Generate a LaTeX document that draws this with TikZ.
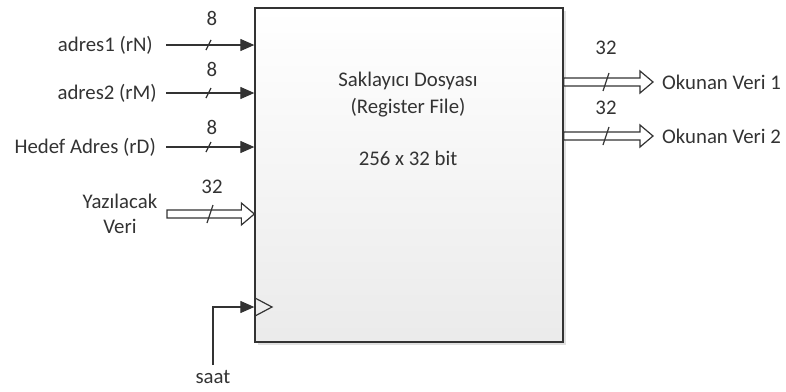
\documentclass[tikz,border=0pt]{standalone}
\usepackage{fontspec}
\setmainfont{Carlito}
\usetikzlibrary{arrows.meta,calc,shadows}
\tikzset{
  x=1pt,y=-1pt,
  lbl/.style={font=\fontsize{20.8}{25}\selectfont, text=black!80, inner sep=0pt},
  sig/.style={draw=black!80, line width=1.2pt, -{Triangle[length=14pt,width=12pt]}},
  bus/.style={draw=black!80, line width=1.2pt, fill=white},
  slash/.style={draw=black!80, line width=1.2pt},
}
\newcommand\busarrow[2]{%
  \draw[bus] ($(#1)+(0,-4)$) -- ($(#2)+(-13,-4)$) -- ($(#2)+(-13,-11)$) -- (#2)
    -- ($(#2)+(-13,11)$) -- ($(#2)+(-13,4)$) -- ($(#1)+(0,4)$) -- cycle;}
\begin{document}
\begin{tikzpicture}
\useasboundingbox (0,0) rectangle (786,391);
% register file box
\node[draw=black!80, line width=1.3pt, top color=white, bottom color=black!8,
  drop shadow={shadow xshift=3pt, shadow yshift=-3pt, fill=black!12, opacity=1},
  minimum width=308pt, minimum height=334pt, inner sep=0pt] (rf) at (409,175) {};
\node[lbl] (t1) at (408,81) {Saklayıcı Dosyası};
\node[lbl] (t2) at (408,108) {(Register File)};
\node[lbl] (t3) at (408,158) {256 x 32 bit};

% inputs
\node[lbl, anchor=east] (a1) at (153,45) {adres1 (rN)};
\node[lbl, anchor=east] (a2) at (157,93) {adres2 (rM)};
\node[lbl, anchor=east] (a3) at (156,147) {Hedef Adres (rD)};
\coordinate (a1s) at (166,45);
\coordinate (a2s) at (166,93);
\coordinate (a3s) at (166,147);
\coordinate (a1e) at (rf.west |- a1s);
\coordinate (a2e) at (rf.west |- a2s);
\coordinate (a3e) at (rf.west |- a3s);
\draw[sig] (a1s) -- (a1e);
\draw[sig] (a2s) -- (a2e);
\draw[sig] (a3s) -- (a3e);
\foreach \y in {45,93,147} \draw[slash] (206,\y+5) -- (211,\y-5);
\node[lbl] (n1) at (212,18) {8};
\node[lbl] (n2) at (212,69) {8};
\node[lbl] (n3) at (212,127) {8};

% write data
\node[lbl, align=center] (wd) at (120,214) {Yazılacak\\Veri};
\coordinate (wds) at (167,214);
\coordinate (wde) at (rf.west |- wds);
\busarrow{wds}{wde}
\draw[slash] (207,223) -- (213,205);
\node[lbl] (n4) at (212,187) {32};

% clock
\draw[draw=black!80, line width=1.2pt] (255,298) -- (272,307) -- (255,316);
\node[lbl] (saat) at (213,377) {saat};
\coordinate (cks) at (213,365);
\coordinate (ck) at (rf.west |- 0,307);
\draw[sig] (cks) |- (ck);

% outputs
\coordinate (o1s) at (rf.east |- 0,82);
\coordinate (o2s) at (rf.east |- 0,136);
\coordinate (o1e) at (653,82);
\coordinate (o2e) at (653,136);
\busarrow{o1s}{o1e}
\busarrow{o2s}{o2e}
\draw[slash] (603,91) -- (609,73);
\draw[slash] (603,145) -- (609,127);
\node[lbl] (n5) at (606,48) {32};
\node[lbl] (n6) at (606,108) {32};
\node[lbl, anchor=west] (r1) at (662,82) {Okunan Veri 1};
\node[lbl, anchor=west] (r2) at (662,136) {Okunan Veri 2};
\end{tikzpicture}
\end{document}
